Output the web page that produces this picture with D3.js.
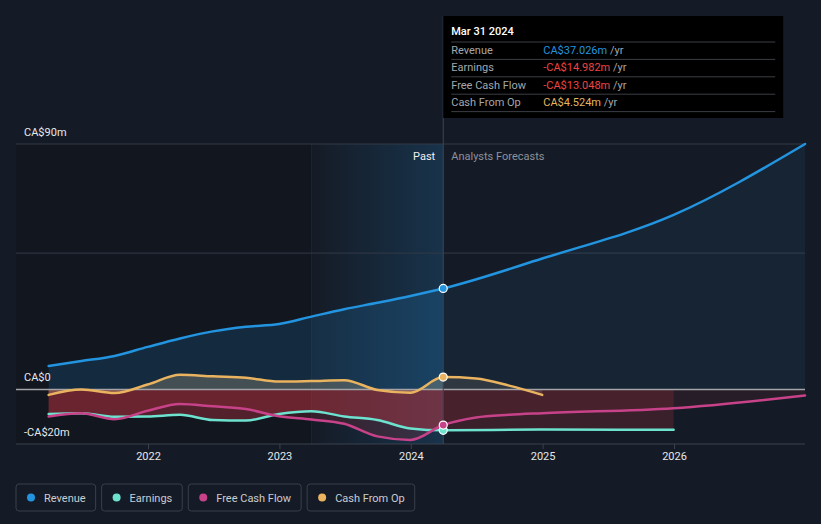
<!DOCTYPE html>
<html lang="en">
<head>
<meta charset="UTF-8" />
<title>Revenue and earnings</title>
<script src="https://d3js.org/d3.v7.min.js"></script>
<style>
  body { margin: 0; background: #151b26; }
  svg { display: block; font-family: Roboto, "Open Sans", sans-serif; }
</style>
</head>
<body>
<div class="canvas"></div>
<script>
// --- data (CA$ millions) ---
const pastDates = ["2021-03-31","2021-06-30","2021-09-30","2021-12-31","2022-03-31","2022-06-30","2022-09-30","2022-12-31","2023-03-31","2023-06-30","2023-09-30","2023-12-31","2024-03-31"];
const revenuePast  = [8.6, 10.4, 12.3, 15.6, 18.7, 21.3, 23.0, 24.0, 26.7, 29.4, 31.8, 34.3, 37.026];
const earningsPast = [-9.0, -8.7, -10.0, -9.9, -9.3, -11.2, -11.4, -9.0, -8.0, -9.9, -11.2, -14.3, -14.982];
const fcfPast      = [-9.9, -8.7, -10.9, -7.8, -5.3, -6.2, -7.2, -9.8, -11.0, -12.6, -17.2, -18.5, -13.048];
const cfoPast      = [-2.0, 0.0, -1.3, 1.8, 5.4, 4.8, 4.3, 2.9, 3.1, 3.4, -0.2, -1.2, 4.524];

const revenueFcDates  = ["2024-03-31","2024-12-31","2025-12-31","2026-12-31"];
const revenueFc       = [37.026, 48.0, 64.0, 90.0];
const earningsFcDates = ["2024-03-31","2024-12-31","2025-12-31"];
const earningsFc      = [-14.982, -14.7, -14.8];
const fcfFcDates      = ["2024-03-31","2024-06-30","2024-09-30","2024-12-31","2025-12-31","2026-12-31"];
const fcfFc           = [-13.048, -10.3, -9.3, -8.7, -6.9, -2.2];
const cfoFcDates      = ["2024-03-31","2024-06-30","2024-09-30","2024-12-31"];
const cfoFc           = [4.524, 4.0, 1.4, -2.0];

const yearTicks = [2022, 2023, 2024, 2025, 2026];
const yLabels = [{ v: 90, t: "CA$90m" }, { v: 0, t: "CA$0" }, { v: -20, t: "-CA$20m" }];
const gridValues = [90, 50];
const names = ["Revenue", "Earnings", "Free Cash Flow", "Cash From Op"];
const colors = ["#2394df", "#6de3cf", "#c8428a", "#e9b35f"];
const nowDate = "2024-03-31";
const bandStart = "2023-03-31";

// --- layout ---
const W = 821, H = 524;
const pL = 16, pR = 805, pT = 144, pB = 444;
const parse = d3.timeParse("%Y-%m-%d");

const svg = d3.select(".canvas").append("svg").attr("width", W).attr("height", H);
svg.append("rect").attr("width", W).attr("height", H).attr("fill", "#151b26");

const x = d3.scaleTime()
  .domain([new Date(2022, 0, 1), new Date(2026, 0, 1)])
  .range([148, 674]);
const y = d3.scaleLinear().domain([-20, 90]).range([pB, pT]);

const xNow = x(parse(nowDate));
const xBand = x(parse(bandStart));

// darker past area and highlighted last year
svg.append("rect").attr("x", pL).attr("y", pT).attr("width", xBand - pL).attr("height", pB - pT)
  .attr("fill", "#000").attr("opacity", 0.17);

const defs = svg.append("defs");
const g1 = defs.append("linearGradient").attr("id", "band").attr("x1", 0).attr("x2", 1).attr("y1", 0).attr("y2", 0);
g1.append("stop").attr("offset", "0%").attr("stop-color", "#2394df").attr("stop-opacity", 0.0);
g1.append("stop").attr("offset", "100%").attr("stop-color", "#2394df").attr("stop-opacity", 0.2);
svg.append("rect").attr("x", xBand).attr("y", pT).attr("width", xNow - xBand).attr("height", pB - pT)
  .attr("fill", "url(#band)");
svg.append("line").attr("x1", xBand).attr("x2", xBand).attr("y1", pT).attr("y2", pB)
  .attr("stroke", "#2394df").attr("stroke-opacity", 0.12);

defs.append("clipPath").attr("id", "past").append("rect")
  .attr("x", pL).attr("y", 0).attr("width", xNow - pL).attr("height", H);
defs.append("clipPath").attr("id", "fc").append("rect")
  .attr("x", xNow).attr("y", 0).attr("width", pR - xNow).attr("height", H);

// grid
svg.selectAll(".grid").data(gridValues).enter().append("line")
  .attr("x1", pL).attr("x2", pR).attr("y1", d => y(d)).attr("y2", d => y(d))
  .attr("stroke", "#323a47").attr("stroke-width", 1);
svg.append("line").attr("x1", pL).attr("x2", pR).attr("y1", pB).attr("y2", pB)
  .attr("stroke", "#3b424e");

// series
function build(pd, pv, fd, fv) {
  const a = pd.map((d, i) => ({ date: parse(d), v: pv[i] }));
  const b = fd.slice(1).map((d, i) => ({ date: parse(d), v: fv[i + 1] }));
  return a.concat(b);
}
const series = [
  build(pastDates, revenuePast, revenueFcDates, revenueFc),
  build(pastDates, earningsPast, earningsFcDates, earningsFc),
  build(pastDates, fcfPast, fcfFcDates, fcfFc),
  build(pastDates, cfoPast, cfoFcDates, cfoFc),
];

const area = d3.area().curve(d3.curveMonotoneX)
  .x(d => x(d.date)).y0(y(0)).y1(d => y(d.v));
const line = d3.line().curve(d3.curveMonotoneX)
  .x(d => x(d.date)).y(d => y(d.v));

const fills = [
  { c: "#2394df", p: 0.17, f: 0.08 },
  { c: "#e03a44", p: 0.32, f: 0.18 },
  { c: "#e03a44", p: 0.16, f: 0.09 },
  { c: "#cbb98e", p: 0.26, f: 0.14 },
];
series.forEach((s, i) => {
  svg.append("path").attr("d", area(s)).attr("fill", fills[i].c).attr("fill-opacity", fills[i].p)
    .attr("clip-path", "url(#past)");
  svg.append("path").attr("d", area(s)).attr("fill", fills[i].c).attr("fill-opacity", fills[i].f)
    .attr("clip-path", "url(#fc)");
});

// zero line
svg.append("line").attr("x1", pL).attr("x2", pR).attr("y1", y(0)).attr("y2", y(0))
  .attr("stroke", "#a3a3a8").attr("stroke-width", 1.5);

// lines
[3, 1, 2, 0].forEach(i => {
  svg.append("path").attr("d", line(series[i])).attr("fill", "none")
    .attr("stroke", colors[i]).attr("stroke-width", 2.5).attr("stroke-linecap", "round");
});

// x axis
const xAxis = svg.append("g").attr("transform", `translate(0,${pB})`)
  .call(d3.axisBottom(x).tickValues(yearTicks.map(t => new Date(t, 0, 1)))
    .tickSize(5).tickFormat(d3.timeFormat("%Y")));
xAxis.select(".domain").remove();
xAxis.selectAll(".tick line").attr("stroke", "#3b424e");
xAxis.selectAll(".tick text").attr("fill", "#e6e8eb").attr("font-size", 11)
  .attr("font-family", "Roboto, sans-serif");

// y labels
svg.selectAll(".ylab").data(yLabels).enter().append("text")
  .attr("x", 24).attr("y", d => y(d.v) - 8).attr("fill", "#e6e8eb").attr("font-size", 11)
  .text(d => d.t);

// past / forecast labels
svg.append("text").attr("x", xNow - 8).attr("y", 160).attr("text-anchor", "end")
  .attr("fill", "#f0f0f0").attr("font-size", 11).text("Past");
svg.append("text").attr("x", xNow + 8).attr("y", 160)
  .attr("fill", "#8c919a").attr("font-size", 11).text("Analysts Forecasts");

// tooltip
const tipTop = 16;
svg.append("line").attr("x1", xNow).attr("x2", xNow).attr("y1", tipTop).attr("y2", pB)
  .attr("stroke", "#3a4756").attr("stroke-width", 1);

const nowVals = [revenuePast, earningsPast, fcfPast, cfoPast].map(a => a[a.length - 1]);
[1, 2, 3, 0].forEach(i => {
  svg.append("circle").attr("cx", xNow).attr("cy", y(nowVals[i])).attr("r", 4)
    .attr("fill", colors[i]).attr("stroke", "#fff").attr("stroke-width", 1.2);
});

const tip = svg.append("g").attr("transform", `translate(${xNow},${tipTop})`);
tip.append("rect").attr("width", 340).attr("height", 102).attr("fill", "#000");
tip.append("text").attr("x", 8).attr("y", 19).attr("fill", "#fff").attr("font-size", 11)
  .attr("font-weight", 500).text("Mar 31 2024");
const fmt = d3.format(".3f");
names.forEach((n, i) => {
  const ry = 26 + i * 17.4;
  tip.append("line").attr("x1", 8).attr("x2", 332).attr("y1", ry).attr("y2", ry)
    .attr("stroke", "#3a3e45");
  tip.append("text").attr("x", 8).attr("y", ry + 12).attr("fill", "#a3a7ad").attr("font-size", 11).text(n);
  const v = nowVals[i];
  const t = tip.append("text").attr("x", 100).attr("y", ry + 12).attr("font-size", 11);
  t.append("tspan").attr("fill", v < 0 ? "#ee4444" : colors[i])
    .text((v < 0 ? "-" : "") + "CA$" + fmt(Math.abs(v)) + "m");
  t.append("tspan").attr("fill", "#a3a7ad").text(" /yr");
});
tip.append("line").attr("x1", 8).attr("x2", 332).attr("y1", 26 + 4 * 17.4).attr("y2", 26 + 4 * 17.4)
  .attr("stroke", "#3a3e45");

// legend
let lx = 16;
names.forEach((n, i) => {
  const g = svg.append("g").attr("transform", `translate(${lx},484)`);
  const r = g.append("rect").attr("height", 27).attr("rx", 3)
    .attr("fill", "none").attr("stroke", "#383f4b");
  g.append("circle").attr("cx", 15).attr("cy", 13.5).attr("r", 4).attr("fill", colors[i]);
  const t = g.append("text").attr("x", 28).attr("y", 17.5).attr("fill", "#c9ccd1").attr("font-size", 11).text(n);
  const w = t.node().getComputedTextLength() + 38;
  r.attr("width", w);
  lx += w + 6;
});
</script>
</body>
</html>
